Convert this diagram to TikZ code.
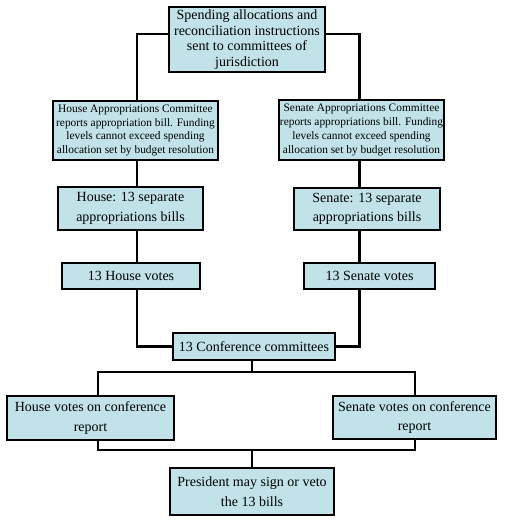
\documentclass[tikz,border=0pt]{standalone}
\usepackage{fontspec}
\setmainfont{Liberation Serif}
\definecolor{boxblue}{RGB}{192,226,232}
\tikzset{
  stage/.style={draw=black, line width=1.5pt, fill=boxblue, align=center,
    inner sep=0pt, font=\fontsize{14}{19.5}\selectfont},
  tight stage/.style={stage, font=\fontsize{14}{15.5}\selectfont},
  small stage/.style={stage, font=\fontsize{11.4}{13.8}\selectfont},
  link/.style={line width=2.8pt}
}
\begin{document}
\begin{tikzpicture}[x=1pt, y=-1pt]
\useasboundingbox (0,0) rectangle (507,524);

\node[tight stage, minimum width=156pt, minimum height=65pt] (top) at (247,39.5)
  {Spending allocations and\\ reconciliation instructions\\ sent to committees of\\ jurisdiction};
\node[small stage, minimum width=165pt, minimum height=59pt] (hac) at (135.5,130.5)
  {House Appropriations Committee\\ reports appropriation bill. Funding\\ levels cannot exceed spending\\ allocation set by budget resolution};
\node[small stage, minimum width=165pt, minimum height=60pt] (sac) at (361.5,130)
  {Senate Appropriations Committee\\ reports appropriations bill. Funding\\ levels cannot exceed spending\\ allocation set by budget resolution};
\node[stage, minimum width=145pt, minimum height=43pt] (hbills) at (130.5,208.5)
  {House: 13 separate\\ appropriations bills};
\node[stage, minimum width=146pt, minimum height=42pt] (sbills) at (367,209)
  {Senate: 13 separate\\ appropriations bills};
\node[stage, minimum width=138pt, minimum height=26pt] (hvotes) at (131,276) {13 House votes};
\node[stage, minimum width=131pt, minimum height=26pt] (svotes) at (369.5,276) {13 Senate votes};
\node[stage, minimum width=162pt, minimum height=27pt] (conf) at (254,346.5) {13 Conference committees};
\node[stage, minimum width=167pt, minimum height=44pt] (hconf) at (90.5,418)
  {House votes on conference\\ report};
\node[stage, minimum width=163pt, minimum height=43pt] (sconf) at (414.5,417.5)
  {Senate votes on conference\\ report};
\node[stage, minimum width=164pt, minimum height=47pt] (pres) at (252,491.5)
  {President may sign or veto\\ the 13 bills};

% columns of the connectors
\coordinate (hcol) at (137,0);
\coordinate (scol) at (359.5,0);
\coordinate (lcol) at (98,0);
\coordinate (rcol) at (415,0);
\coordinate (split) at (252,372);
\coordinate (join) at (252,450);

\draw[link] ([yshift=5.5pt]top.west) -| (hcol |- hac.north);
\draw[link] ([yshift=5.5pt]top.east) -| (scol |- sac.north);
\draw[link] (hcol |- hac.south) -- (hcol |- hbills.north);
\draw[link] (scol |- sac.south) -- (scol |- sbills.north);
\draw[link] (hcol |- hbills.south) -- (hcol |- hvotes.north);
\draw[link] (scol |- sbills.south) -- (scol |- svotes.north);
\draw[link] (hcol |- hvotes.south) |- (conf.west);
\draw[link] (scol |- svotes.south) |- (conf.east);
\draw[link] (split |- conf.south) -- (split);
\draw[link] (lcol |- hconf.north) |- (split) -| (rcol |- sconf.north);
\draw[link] (lcol |- hconf.south) |- (join) -| (rcol |- sconf.south);
\draw[link] (join) -- (pres.north);
\end{tikzpicture}
\end{document}
